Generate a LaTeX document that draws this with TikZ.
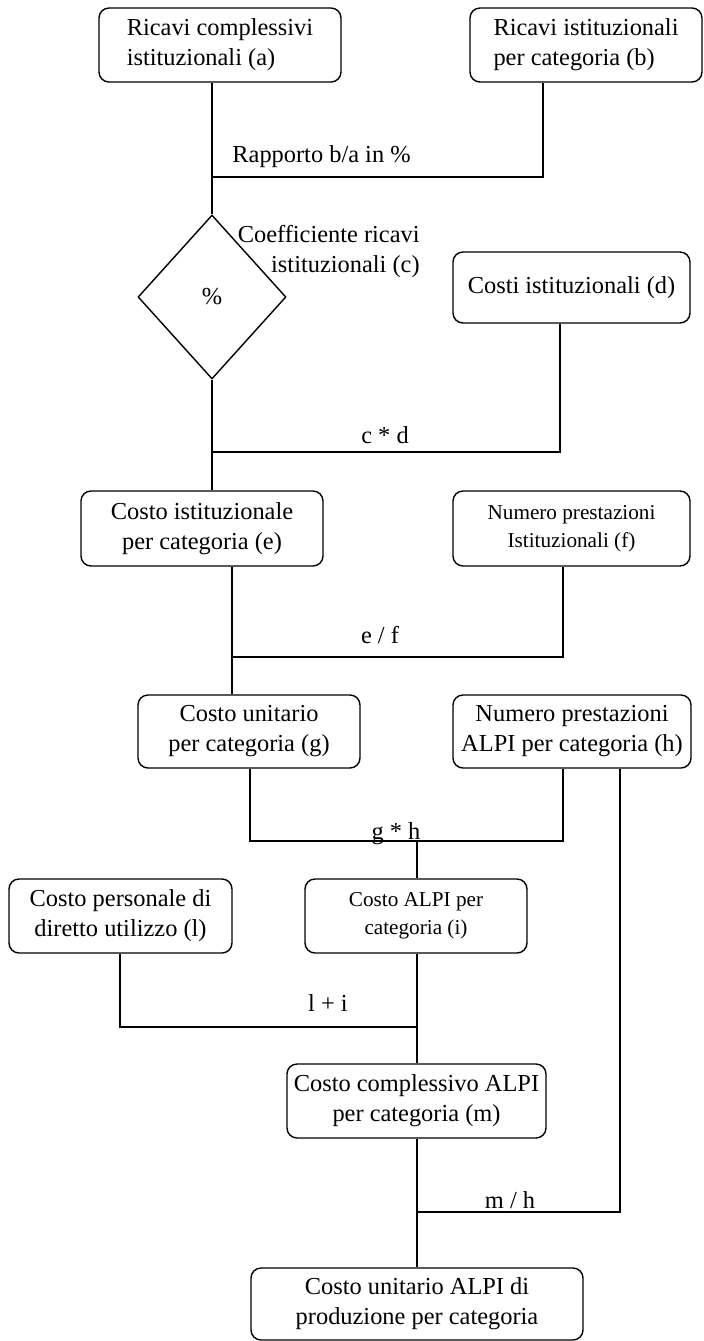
\documentclass[tikz,border=0pt]{standalone}
\usepackage{fontspec}
\setmainfont{Liberation Serif}
\usetikzlibrary{shapes.geometric}

\begin{document}
\begin{tikzpicture}[x=0.5pt,y=-0.5pt,
      box/.style={draw,line width=0.7pt,rounded corners=5pt,inner sep=0pt,align=center,
        font=\fontsize{12.2}{15}\selectfont},
      smalltext/.style={font=\fontsize{10.6}{14}\selectfont},
      op/.style={inner sep=0pt,font=\fontsize{12.2}{15}\selectfont},
      link/.style={line width=0.7pt}]
    % page is 703 x 1341 units, y grows downwards
    \useasboundingbox (0,0) rectangle (703,1341);

    % top row
    \node[box,align=left,minimum width=121pt,minimum height=37pt] (a) at (220,45) {Ricavi complessivi\\istituzionali (a)};
    \node[box,align=left,minimum width=116pt,minimum height=37pt] (b) at (586,45) {Ricavi istituzionali\\per categoria (b)};

    % coefficient
    \node[draw,line width=0.7pt,diamond,aspect=0.9,inner sep=0pt,minimum width=74pt,minimum height=82pt,
      font=\fontsize{12.2}{15}\selectfont] (c) at (212,297) {\%};
    \node[op,align=right,anchor=east] (clabel) at (420,251) {Coefficiente ricavi\\istituzionali (c)};
    \node[box,minimum width=118.5pt,minimum height=35.5pt] (d) at (571.5,287.5) {Costi istituzionali (d)};

    % institutional cost
    \node[box,minimum width=121pt,minimum height=37.5pt] (e) at (202,528.5) {Costo istituzionale\\per categoria (e)};
    \node[box,smalltext,minimum width=118.5pt,minimum height=37.5pt] (f) at (571.5,528.5) {Numero prestazioni\\Istituzionali (f)};

    % unit cost and ALPI volumes
    \node[box,minimum width=111pt,minimum height=36.5pt] (g) at (249,731.5) {Costo unitario\\per categoria (g)};
    \node[box,minimum width=119pt,minimum height=36.5pt] (h) at (572,731.5) {Numero prestazioni\\ALPI per categoria (h)};

    \node[box,minimum width=111.5pt,minimum height=37pt] (l) at (120.5,916) {Costo personale di\\diretto utilizzo (l)};
    \node[box,smalltext,minimum width=111pt,minimum height=37pt] (i) at (416,916) {Costo ALPI per\\categoria (i)};

    \node[box,minimum width=129.5pt,minimum height=37pt] (m) at (416.5,1101) {Costo complessivo ALPI\\per categoria (m)};
    \node[box,minimum width=166pt,minimum height=36pt] (n) at (417,1304) {Costo unitario ALPI di\\produzione per categoria};

    % junctions of the connectors
    \coordinate (j1) at (212,177);  \coordinate (bx) at (543,177);
    \coordinate (j2) at (212,452);  \coordinate (dx) at (560,452);
    \coordinate (j3) at (232,657);  \coordinate (fx) at (563,657);
    \coordinate (gx) at (250,841);  \coordinate (j4) at (417,841);  \coordinate (hx) at (563,841);
    \coordinate (lx) at (120,1027); \coordinate (j5) at (417,1027);
    \coordinate (j6) at (417,1212); \coordinate (hy) at (620,1212);

    % connectors
    \draw[link] (a.south -| j1) -- (c.north);
    \draw[link] (b.south -| bx) -- (bx) -- (j1);
    \draw[link] (c.south) -- (e.north -| c.south);
    \draw[link] (d.south -| dx) -- (dx) -- (j2);
    \draw[link] (e.south -| j3) -- (g.north -| j3);
    \draw[link] (f.south -| fx) -- (fx) -- (j3);
    \draw[link] (g.south -| gx) -- (gx) -- (hx) -- (h.south -| hx);
    \draw[link] (j4) -- (i.north -| j4);
    \draw[link] (h.south -| hy) -- (hy) -- (j6);
    \draw[link] (l.south -| lx) -- (lx) -- (j5);
    \draw[link] (i.south -| j5) -- (m.north -| j5);
    \draw[link] (m.south -| j6) -- (n.north -| j6);

    % operation labels
    \node[op,anchor=west] (rap) at (232,157) {Rapporto b/a in \%};
    \node[op] (cd) at (385,435) {c * d};
    \node[op] (ef) at (380,635) {e / f};
    \node[op,anchor=base] (gh) at (396,839) {g * h};
    \node[op] (li) at (328,1003) {l + i};
    \node[op] (mh) at (510,1200) {m / h};
  \end{tikzpicture}
\end{document}
